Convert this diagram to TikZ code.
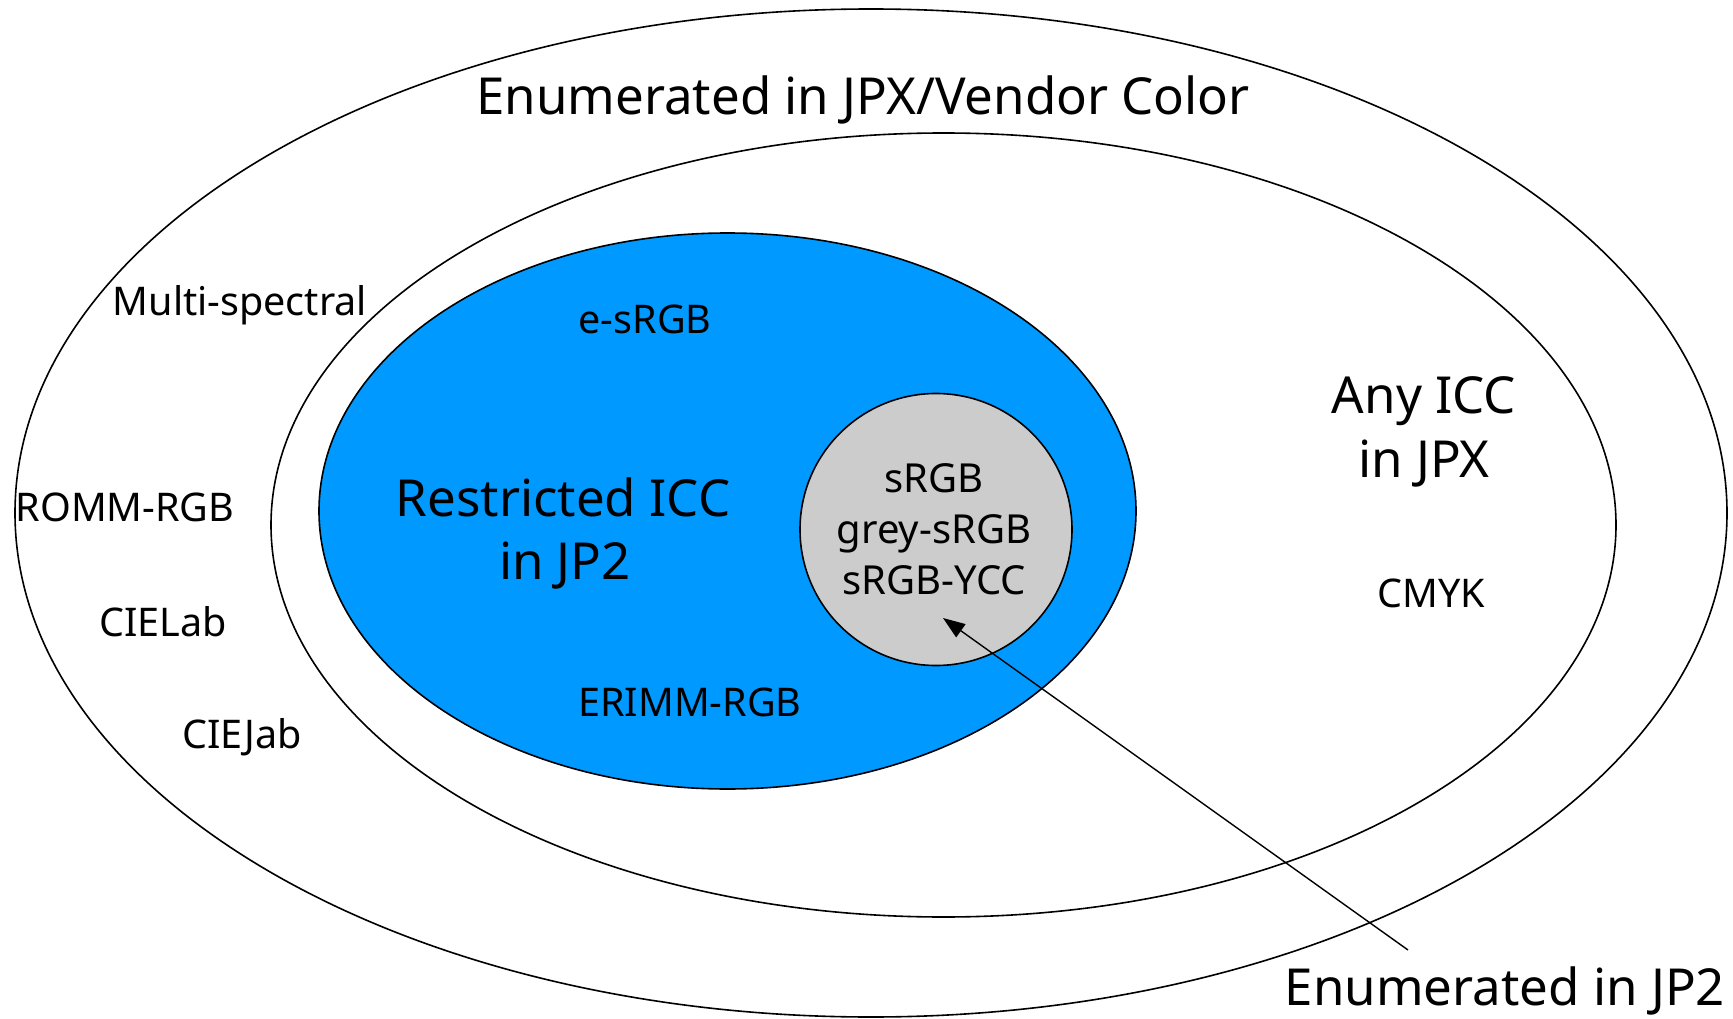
\documentclass[tikz,border=0pt]{standalone}
\usepackage{fontspec}
\setmainfont{Noto Sans}
\usetikzlibrary{shapes.geometric,arrows.meta}
\definecolor{iccblue}{HTML}{0099FF}
\definecolor{enumgrey}{HTML}{CCCCCC}
\tikzset{
  region/.style={draw=black, line width=1.6pt, ellipse, inner sep=0pt},
  bigtxt/.style={font=\fontsize{51}{60}\selectfont, anchor=base, inner sep=0pt, align=center},
  midtxt/.style={font=\fontsize{39.5}{46}\selectfont, anchor=base, inner sep=0pt},
  smalltxt/.style={font=\fontsize{40}{46}\selectfont, anchor=base, inner sep=0pt, align=center},
  pointer/.style={line width=1.4pt, -{Triangle[length=22pt,width=16pt]}}
}
\begin{document}
\begin{tikzpicture}[x=1pt,y=-1pt]
  \useasboundingbox (0,0) rectangle (1733,1019);
  % nested colour-space regions
  \node[region, minimum width=1712pt, minimum height=1008pt] (outer) at (871,513) {};
  \node[region, minimum width=1345pt, minimum height=784pt] (middle) at (943.5,525) {};
  \node[region, fill=iccblue, minimum width=817pt, minimum height=556pt] (blue) at (727.5,511) {};
  \node[region, fill=enumgrey, circle, minimum size=272pt] (grey) at (936,529.5) {};

  % labels
  \node[bigtxt] (title) at (863,115) {Enumerated in JPX/Vendor Color};
  \node[midtxt] (multi) at (240,316) {Multi-spectral};
  \node[midtxt] (romm) at (125,521) {ROMM-RGB};
  \node[midtxt] (cielab) at (163,636) {CIELab};
  \node[midtxt] (ciejab) at (242,748) {CIEJab};
  \node[midtxt] (esrgb) at (645,333) {e-sRGB};
  \node[midtxt] (erimm) at (690,716) {ERIMM-RGB};
  \node[midtxt] (cmyk) at (1431,607) {CMYK};
  \node[bigtxt] (restr1) at (563,516) {Restricted ICC};
  \node[bigtxt] (restr2) at (565,579) {in JP2};
  \node[bigtxt] (any1) at (1424,413) {Any ICC};
  \node[bigtxt] (any2) at (1424,477) {in JPX};
  \node[smalltxt] (srgb) at (934,492) {sRGB};
  \node[smalltxt] (greysrgb) at (934,543) {grey-sRGB};
  \node[smalltxt] (srgbycc) at (934,594) {sRGB-YCC};
  \node[bigtxt] (enumjp2) at (1505,1005) {Enumerated in JP2};

  % pointer to the enumerated spaces
  \coordinate (tail) at (1408,950);
  \coordinate (tip) at (943,618);
  \draw[pointer] (tail) -- (tip);
\end{tikzpicture}
\end{document}
